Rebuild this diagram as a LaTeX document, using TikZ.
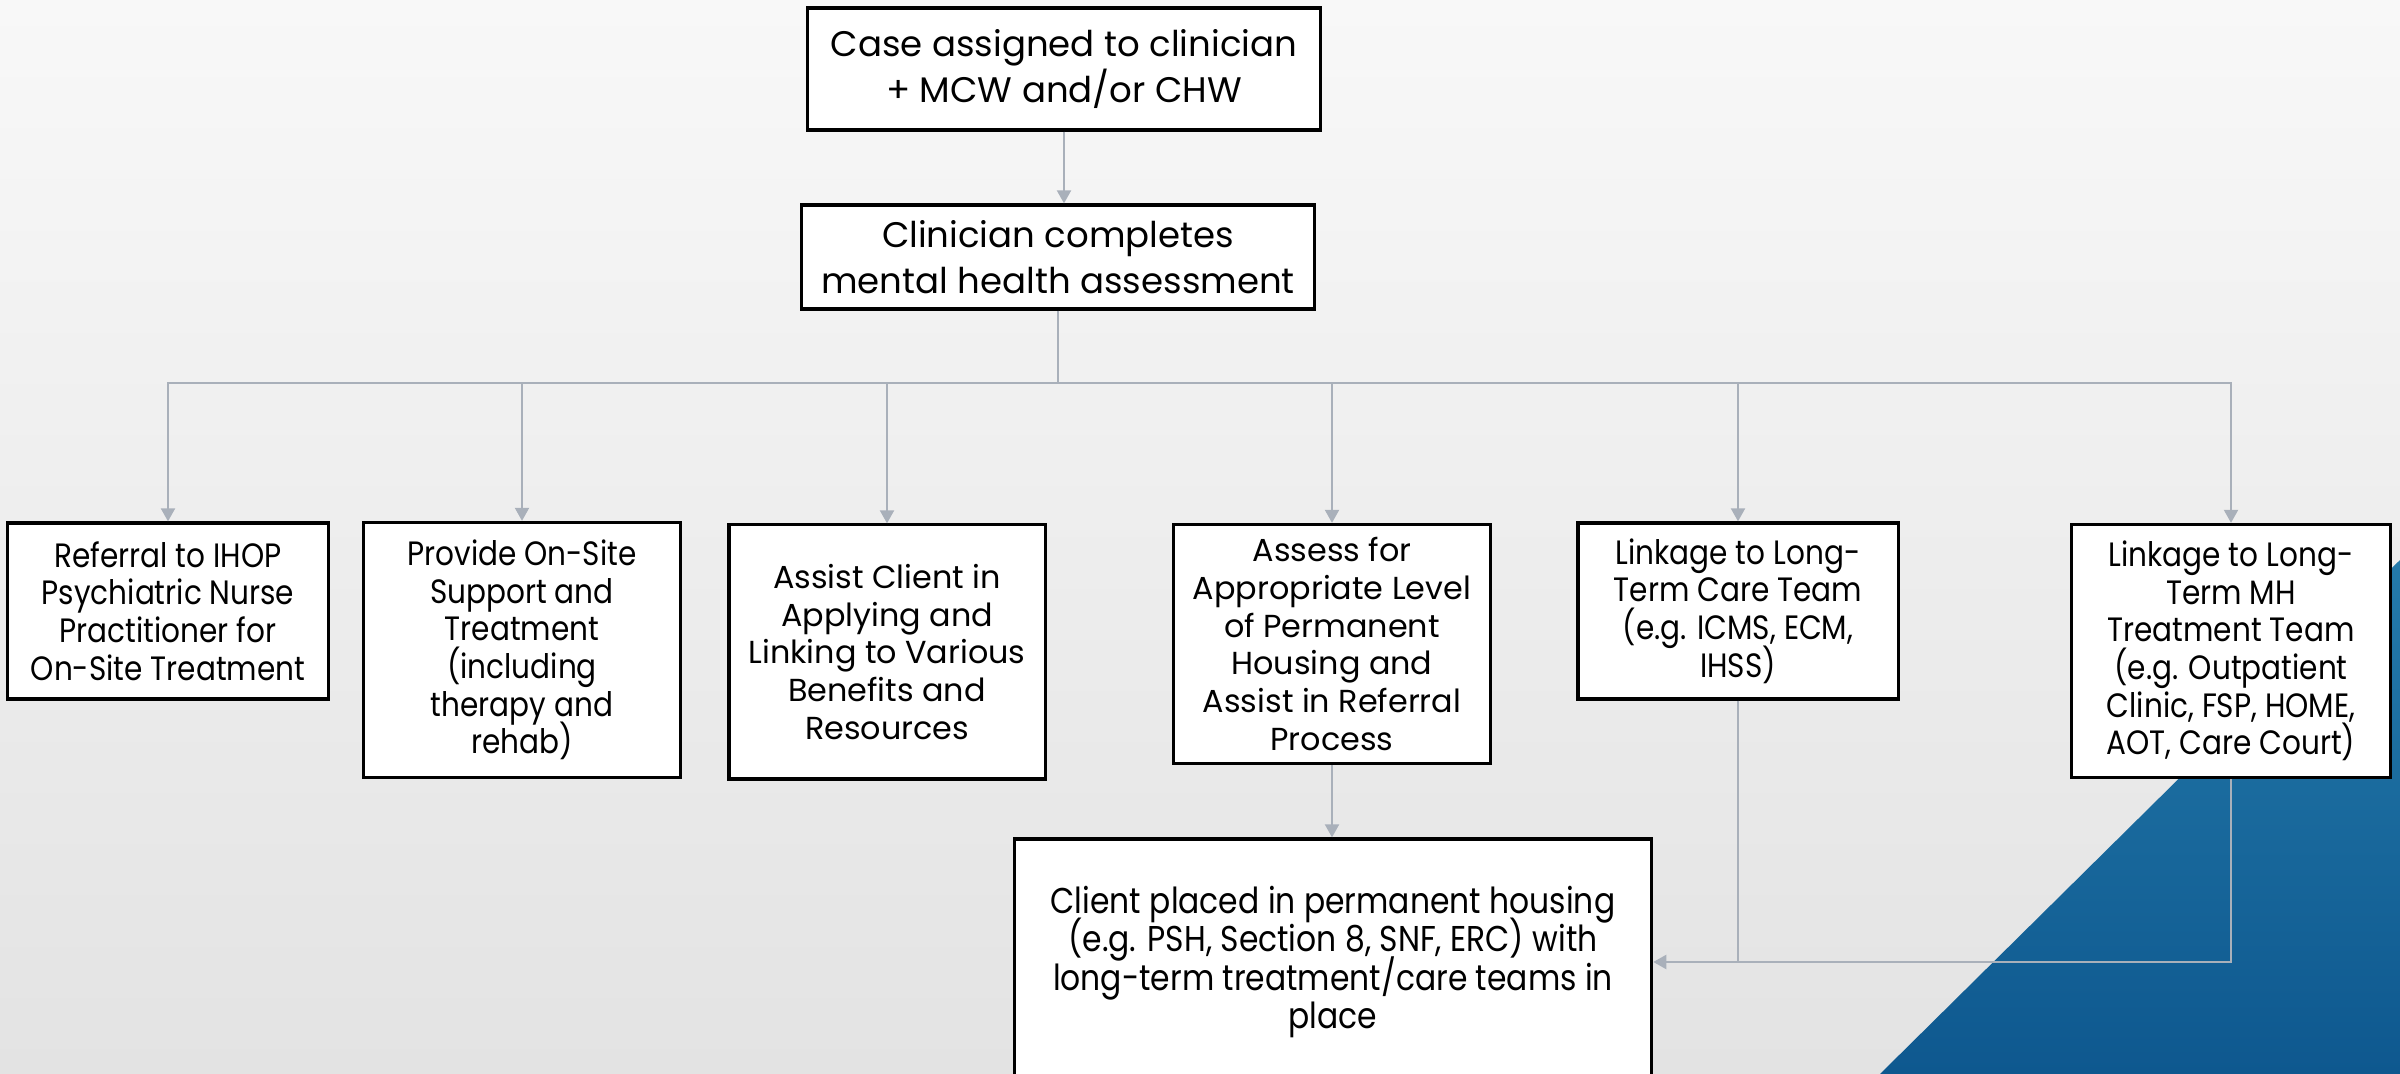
\documentclass[tikz,border=0pt]{standalone}
\usepackage{fontspec}
\setmainfont{Poppins}
\newfontfamily\narrowfont[FakeStretch=0.875]{Poppins}
\usetikzlibrary{positioning, arrows.meta}

\definecolor{linkgray}{RGB}{169,176,186}
\definecolor{bgtop}{RGB}{248,248,248}
\definecolor{bgbot}{RGB}{227,227,227}
\definecolor{bluetop}{RGB}{36,122,170}
\definecolor{bluebot}{RGB}{14,88,143}

\newcommand\tightlines{\lineskiplimit=-5pt\relax}

\tikzset{
  box/.style={draw=black, line width=0.9pt, fill=white, align=center, inner sep=0pt},
  headbox/.style={box, font=\fontsize{10.1}{13}\selectfont},
  stepbox/.style={box, font=\fontsize{9.05}{10.7}\selectfont\tightlines},
  narrow/.style={font=\narrowfont\fontsize{9.6}{10.7}\selectfont\tightlines},
  link/.style={draw=linkgray, line width=0.6pt},
  flow/.style={link, -{Triangle[width=0.14cm, length=0.13cm]}},
}

\begin{document}
\begin{tikzpicture}[x=0.01cm, y=-0.01cm]
  \useasboundingbox (0,0) rectangle (2400,1074);
  \clip (0,0) rectangle (2400,1074);
  % background
  \shade[top color=bgtop, bottom color=bgbot] (0,0) rectangle (2400,1074);
  \shade[top color=bluetop, bottom color=bluebot] (1880,1074) -- (2400,560) -- (2400,1074) -- cycle;

  % boxes
  \node[headbox, minimum width=5.13cm, minimum height=1.22cm] (case) at (1064,69) {Case assigned to clinician\\+ MCW and/or CHW};
  \node[headbox, minimum width=5.13cm, minimum height=1.04cm] (assess) at (1058,257) {Clinician completes\\mental health assessment};

  \node[stepbox, narrow, minimum width=3.2cm, minimum height=1.76cm] (ihop) at (168,611) {Referral to IHOP\\Psychiatric Nurse\\Practitioner for\\On-Site Treatment};
  \node[stepbox, narrow, minimum width=3.17cm, minimum height=2.55cm] (onsite) at (522,650) {Provide On-Site\\Support and\\Treatment\\(including\\therapy and\\rehab)};
  \node[stepbox, minimum width=3.16cm, minimum height=2.54cm] (benefits) at (887,652) {Assist Client in\\Applying and\\Linking to Various\\Benefits and\\Resources};
  \node[stepbox, minimum width=3.17cm, minimum height=2.39cm] (housing) at (1332,644) {Assess for\\Appropriate Level\\of Permanent\\Housing and\\Assist in Referral\\Process};
  \node[stepbox, narrow, minimum width=3.2cm, minimum height=1.76cm] (ltcare) at (1738,611) {Linkage to Long-\\Term Care Team\\(e.g. ICMS, ECM,\\IHSS)};
  \node[stepbox, narrow, minimum width=3.19cm, minimum height=2.53cm] (ltmh) at (2231,651) {Linkage to Long-\\Term MH\\Treatment Team\\(e.g. Outpatient\\Clinic, FSP, HOME,\\AOT, Care Court)};

  \node[stepbox, font=\narrowfont\fontsize{10.2}{10.9}\selectfont\tightlines, minimum width=6.37cm, minimum height=2.46cm] (placed) at (1333,962) {Client placed in permanent housing\\(e.g. PSH, Section 8, SNF, ERC) with\\long-term treatment/care teams in\\place};

  % connectors
  \draw[flow] (case.south) -- (case.south |- assess.north);
  \draw[link] (assess.south) -- ++(0,72) coordinate (split);
  \foreach \n in {ihop,onsite,benefits,housing,ltcare,ltmh}
    \draw[flow] (split) -| (\n.north);
  \draw[flow] (housing.south) -- (housing.south |- placed.north);
  \draw[link] (ltcare.south) -- (ltcare.south |- placed.east);
  \draw[flow] (ltmh.south) |- (placed.east);
\end{tikzpicture}
\end{document}
